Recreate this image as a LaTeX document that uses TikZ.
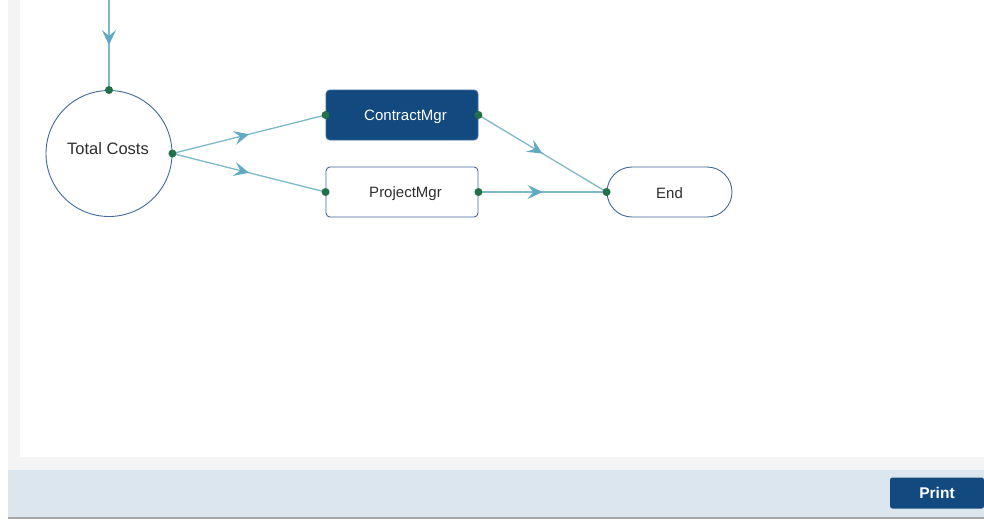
\documentclass[tikz,border=0pt]{standalone}
\usepackage{fontspec}
\setmainfont{Liberation Sans}
\usetikzlibrary{arrows.meta,decorations.markings,shapes.misc}
\definecolor{navy}{HTML}{124A80}
\definecolor{edgeblue}{HTML}{7DB9CB}
\definecolor{tipblue}{HTML}{5FA9C2}
\definecolor{borderblue}{HTML}{3F6A9A}
\definecolor{dotgreen}{HTML}{21714A}
\definecolor{panelgray}{HTML}{F4F4F4}
\definecolor{barblue}{HTML}{DCE6EF}
\definecolor{txtgray}{HTML}{2E2E2E}
\tikzset{
  flow/.style={draw=edgeblue, line width=1.3pt,
    postaction={decorate},
    decoration={markings, mark=at position 0.5 with {\arrow[tipblue]{Stealth[length=15pt,width=14pt,inset=6pt]}}}},
  boxnode/.style={draw=borderblue, line width=0.9pt, rounded corners=4pt, minimum width=152pt, minimum height=50pt, inner sep=0pt},
  boxtext/.style={font=\fontsize{15}{17}\selectfont, inner sep=0pt},
  port/.style={circle, fill=dotgreen, inner sep=0pt, minimum size=8pt},
}
\begin{document}
\begin{tikzpicture}[x=1pt,y=-1pt]
\useasboundingbox (0,0) rectangle (984,531);
% background
\fill[white] (0,0) rectangle (984,531);
\fill[panelgray] (8,0) rectangle (984,470);
\fill[white] (20,0) rectangle (984,457);
\fill[barblue] (8,470) rectangle (984,517);
\fill[black!35] (8,517) rectangle (984,518.5);
% nodes
\node[circle, draw=borderblue, line width=0.9pt, minimum size=126pt, inner sep=0pt, fill=white] (tc) at (109,153.5) {};
\node[text=txtgray, font=\fontsize{16.5}{18}\selectfont] (tcl) at (108,149) {Total Costs};
\node[boxnode, fill=navy] (cm) at (402,115) {};
\node[boxtext, text=white] (cml) at (405.5,116.5) {ContractMgr};
\node[boxnode, fill=white] (pm) at (402,192) {};
\node[boxtext, text=txtgray] (pml) at (405.5,193.5) {ProjectMgr};
\node[rounded rectangle, draw=borderblue, line width=0.9pt, minimum width=125pt, minimum height=50pt, inner sep=0pt, fill=white] (end) at (669.5,192) {};
\node[boxtext, text=txtgray] (endl) at (669.5,193.5) {End};
\coordinate (top) at (109,0);
% connectors
\draw[flow] (top) -- (tc.north);
\draw[flow] (tc.east) -- (cm.west);
\draw[flow] (tc.east) -- (pm.west);
\draw[flow] (cm.east) -- (end.west);
\draw[flow] (pm.east) -- (end.west);
% ports
\node[port] (p1) at (tc.north) {};
\node[port] (p2) at (tc.east) {};
\node[port] (p3) at (cm.west) {};
\node[port] (p4) at (cm.east) {};
\node[port] (p5) at (pm.west) {};
\node[port] (p6) at (pm.east) {};
\node[port] (p7) at (end.west) {};
% print button
\node[fill=navy, rounded corners=2.5pt, minimum width=94pt, minimum height=31pt, inner sep=0pt, text=white, font=\bfseries\fontsize{15.5}{17}\selectfont] (print) at (937,493) {Print};
\end{tikzpicture}
\end{document}
